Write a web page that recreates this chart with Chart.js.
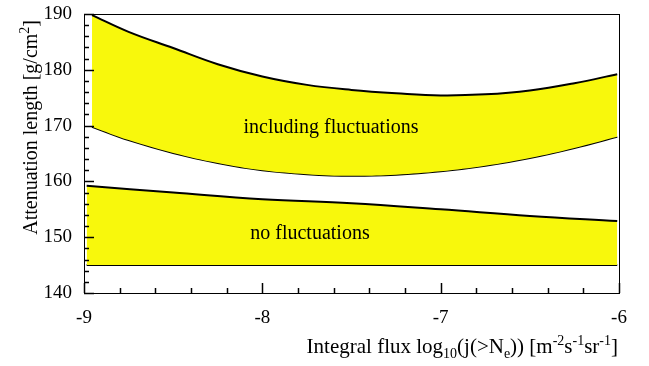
<!DOCTYPE html>
<html><head><meta charset="utf-8">
<script src="https://cdn.jsdelivr.net/npm/chart.js@4/dist/chart.umd.min.js"></script>
<style>html,body{margin:0;padding:0;background:#fff;}#wrap{width:649px;height:366px;position:relative;}</style>
</head><body><div id="wrap"><canvas id="c" width="649" height="366"></canvas></div>
<script>
// x positions (log10 integral flux)
const xIncl = [-8.955, -8.75, -8.5, -8.25, -8, -7.75, -7.5, -7.25, -7, -6.75, -6.5, -6.25, -6.01];
const inclUpper = [189.8, 186.8, 183.9, 181.0, 178.8, 177.3, 176.4, 175.8, 175.4, 175.6, 176.3, 177.6, 179.2];
const inclLower = [169.8, 167.4, 165.1, 163.3, 162.0, 161.3, 161.0, 161.2, 161.8, 162.8, 164.2, 166.0, 168.0];
const xNo = [-8.985, -8.5, -8, -7.5, -7, -6.5, -6.01];
const noUpper = [159.2, 158.0, 156.8, 156.1, 155.0, 153.8, 152.9];
const noLower = [145, 145, 145, 145, 145, 145, 145];
const xTickLabels = [-9, -8, -7, -6];
const yTickLabels = [140, 150, 160, 170, 180, 190];
const bandLabels = [{text:'including fluctuations', x:-7.615, y:168.7}, {text:'no fluctuations', x:-7.733, y:149.7}];

const FONT = "'Liberation Serif', 'Times New Roman', serif";
Chart.defaults.font.family = FONT;
Chart.defaults.color = '#000';
const YEL = '#f8f80c';
const pts = (xs, ys) => xs.map((x, i) => ({x, y: ys[i]}));

function drawRich(ctx, segs, x, y, align) {
  let w = 0;
  segs.forEach(s => { ctx.font = s[1] + 'px ' + FONT; w += ctx.measureText(s[0]).width; });
  let cx = align === 'right' ? x - w : x;
  ctx.textAlign = 'left';
  ctx.textBaseline = 'alphabetic';
  segs.forEach(s => { ctx.font = s[1] + 'px ' + FONT; ctx.fillText(s[0], cx, y + s[2]); cx += ctx.measureText(s[0]).width; });
}

const deco = {
  id: 'deco',
  afterDatasetsDraw(chart) {
    const ctx = chart.ctx, a = chart.chartArea, xs = chart.scales.x, ys = chart.scales.y;
    ctx.save();
    ctx.fillStyle = '#000';
    ctx.font = '20px ' + FONT;
    ctx.textAlign = 'center'; ctx.textBaseline = 'alphabetic';
    bandLabels.forEach(l => ctx.fillText(l.text, xs.getPixelForValue(l.x), ys.getPixelForValue(l.y)));
    ctx.strokeStyle = '#000'; ctx.lineWidth = 1;
    ctx.strokeRect(Math.round(a.left) + 0.5, Math.round(a.top) + 0.5, Math.round(a.right - a.left), Math.round(a.bottom - a.top));
    ctx.lineWidth = 1.5;
    for (let i = 0; i <= 15; i++) {
      const v = -9 + i * 0.2;
      const px = Math.round(xs.getPixelForValue(v)) + 0.5;
      const len = (i % 5 === 0) ? 10 : 5;
      ctx.beginPath(); ctx.moveTo(px, a.bottom); ctx.lineTo(px, a.bottom - len); ctx.stroke();
    }
    for (let i = 0; i <= 25; i++) {
      const v = 140 + i * 2;
      const py = Math.round(ys.getPixelForValue(v)) + 0.5;
      const len = (i % 5 === 0) ? 10 : 5;
      ctx.beginPath(); ctx.moveTo(a.left, py); ctx.lineTo(a.left + len, py); ctx.stroke();
    }
    ctx.fillStyle = '#000';
    drawRich(ctx, [['Integral flux log', 21, 0], ['10', 14, 5], ['(j(>N', 21, 0], ['e', 14, 5], [')) [m', 21, 0], ['-2', 14, -8], ['s', 21, 0], ['-1', 14, -8], ['sr', 21, 0], ['-1', 14, -8], [']', 21, 0]], 618, 353, 'right');
    ctx.translate(37, 20);
    ctx.rotate(-Math.PI / 2);
    drawRich(ctx, [['Attenuation length [g/cm', 20, 0], ['2', 14, -8], [']', 20, 0]], 0, 0, 'right');
    ctx.restore();
  }
};

const ds = (d, fill) => ({data: d, borderColor: '#000', borderWidth: 2, backgroundColor: YEL, fill, pointRadius: 0, tension: 0.4});

new Chart(document.getElementById('c'), {
  type: 'line',
  data: {
    datasets: [
      ds(pts(xIncl, inclUpper), '+1'),
      ds(pts(xIncl, inclLower), false),
      ds(pts(xNo, noUpper), '+1'),
      ds(pts(xNo, noLower), false)
    ]
  },
  options: {
    responsive: false, animation: false, devicePixelRatio: 1,
    layout: {padding: {top: 14, right: 30, left: 0, bottom: 0}},
    plugins: {legend: {display: false}, tooltip: {enabled: false}},
    scales: {
      x: {type: 'linear', min: -9, max: -6,
          afterFit: s => { s.height = 73; s.paddingLeft = 0; s.paddingRight = 0; },
          afterBuildTicks: s => { s.ticks = xTickLabels.map(v => ({value: v})); },
          grid: {display: false, drawTicks: false}, border: {display: false},
          ticks: {padding: 14, color: '#000', font: {family: FONT, size: 19}, maxRotation: 0}},
      y: {type: 'linear', min: 140, max: 190,
          afterFit: s => { s.width = 84; s.paddingTop = 0; s.paddingBottom = 0; },
          afterBuildTicks: s => { s.ticks = yTickLabels.map(v => ({value: v})); },
          grid: {display: false, drawTicks: false}, border: {display: false},
          ticks: {padding: 12, color: '#000', font: {family: FONT, size: 19}}}
    }
  },
  plugins: [deco]
});
</script></body></html>
